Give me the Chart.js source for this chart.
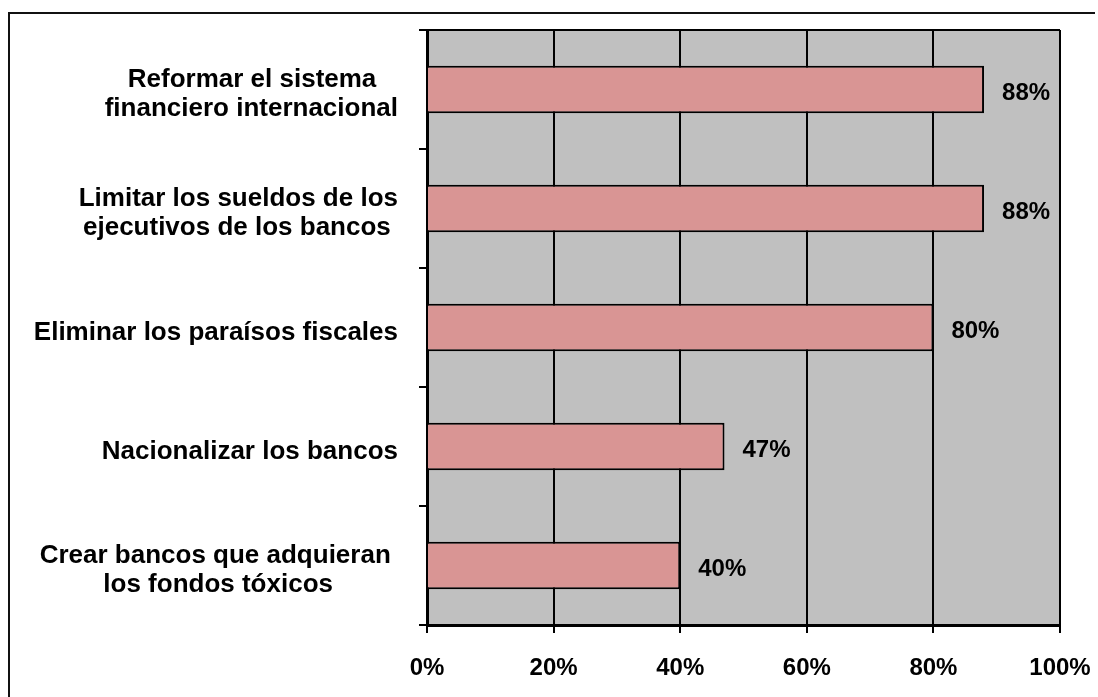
<!DOCTYPE html>
<html>
<head>
<meta charset="utf-8">
<script src="https://cdn.jsdelivr.net/npm/chart.js@4/dist/chart.umd.min.js"></script>
<style>
  html, body { margin: 0; padding: 0; background: #fff; overflow: hidden; }
  .marco { position: absolute; background: #111; }
  #marcoSup { left: 8px; top: 12px; width: 1087px; height: 2px; }
  #marcoIzq { left: 8px; top: 12px; width: 2px; height: 685px; }
  #chart { position: absolute; left: 0; top: 0; }
</style>
</head>
<body>
<div class="marco" id="marcoSup"></div>
<div class="marco" id="marcoIzq"></div>
<canvas id="chart" width="1098" height="697"></canvas>
<script>
// Datos (los espacios finales centran las líneas como en el original)
const categorias = [
    ['Reformar el sistema   ', 'financiero internacional'],
    ['Limitar los sueldos de los', 'ejecutivos de los bancos '],
    'Eliminar los paraísos fiscales',
    'Nacionalizar los bancos',
    ['Crear bancos que adquieran ', 'los fondos tóxicos         ']
];
const porcentajes = [88, 88, 80, 47, 40];
const ticksX = [0, 20, 40, 60, 80, 100];

const familia = "'Liberation Sans', Arial, sans-serif";

// Fondo gris del área de trazado
const fondoGris = {
    id: 'fondoGris',
    beforeDraw(chart) {
        const a = chart.chartArea;
        const ctx = chart.ctx;
        ctx.save();
        ctx.fillStyle = '#c0c0c0';
        ctx.fillRect(a.left, a.top, a.right - a.left, a.bottom - a.top);
        ctx.restore();
    }
};

// Etiquetas de valor a la derecha de cada barra
const etiquetas = {
    id: 'etiquetas',
    afterDatasetsDraw(chart) {
        const ctx = chart.ctx;
        const meta = chart.getDatasetMeta(0);
        ctx.save();
        ctx.font = 'bold 24px ' + familia;
        ctx.fillStyle = '#000';
        ctx.textAlign = 'left';
        ctx.textBaseline = 'middle';
        meta.data.forEach((bar, i) => {
            ctx.fillText(porcentajes[i] + '%', bar.x + 18, bar.y + 4);
        });
        ctx.restore();
    }
};

new Chart(document.getElementById('chart'), {
    type: 'bar',
    data: {
        labels: categorias,
        datasets: [{
            data: porcentajes,
            backgroundColor: '#d99594',
            borderColor: '#000',
            borderWidth: 2,
            barPercentage: 0.4,
            categoryPercentage: 1
        }]
    },
    options: {
        indexAxis: 'y',
        responsive: false,
        animation: false,
        events: [],
        layout: { padding: { left: 0, top: 30, right: 38, bottom: 0 } },
        plugins: {
            legend: { display: false },
            tooltip: { enabled: false }
        },
        scales: {
            x: {
                min: 0,
                max: 100,
                afterBuildTicks(scale) {
                    scale.ticks = ticksX.map(v => ({ value: v }));
                },
                afterFit(scale) {
                    scale.height = 72;
                    scale.paddingLeft = 0;
                    scale.paddingRight = 0;
                },
                grid: {
                    color: '#000',
                    lineWidth: 2,
                    tickColor: '#000',
                    tickLength: 8
                },
                border: { color: '#000', width: 3 },
                ticks: {
                    color: '#000',
                    font: { family: familia, size: 24, weight: 'bold' },
                    padding: 21,
                    maxRotation: 0,
                    callback: v => v + '%'
                }
            },
            y: {
                afterFit(scale) {
                    scale.width = 427;
                    scale.paddingTop = 0;
                    scale.paddingBottom = 0;
                },
                grid: {
                    offset: true,
                    color: ctx => ctx.index === 0 ? '#000' : 'rgba(0,0,0,0)',
                    lineWidth: 2,
                    tickColor: '#000',
                    tickLength: 8
                },
                border: { color: '#000', width: 3 },
                ticks: {
                    color: '#000',
                    font: { family: familia, size: 26, weight: 'bold', lineHeight: 1.1 },
                    padding: 21,
                    labelOffset: 5
                }
            }
        }
    },
    plugins: [fondoGris, etiquetas]
});
</script>
</body>
</html>
